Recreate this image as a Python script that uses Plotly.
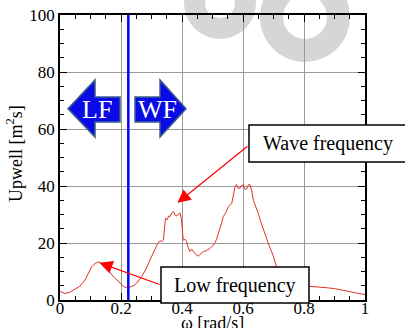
import plotly.graph_objects as go

# ---------------- data ----------------
omega = [0.0, 0.016, 0.03, 0.05, 0.065, 0.082, 0.095, 0.104, 0.115, 0.126, 0.137, 0.148,
         0.16, 0.175, 0.19, 0.202, 0.21, 0.219, 0.232, 0.246, 0.256, 0.268, 0.28, 0.29,
         0.30, 0.311, 0.32, 0.328, 0.334, 0.339, 0.343, 0.346, 0.352, 0.356, 0.36, 0.366,
         0.372, 0.378, 0.383, 0.388, 0.393, 0.398, 0.401, 0.404, 0.41, 0.415, 0.42, 0.426,
         0.432, 0.437, 0.445, 0.453, 0.46, 0.47, 0.48, 0.492, 0.503, 0.509, 0.514, 0.52,
         0.525, 0.53, 0.535, 0.543, 0.552, 0.558, 0.563, 0.568, 0.574, 0.579, 0.584, 0.59,
         0.595, 0.601, 0.607, 0.612, 0.618, 0.623, 0.628, 0.634, 0.642, 0.65, 0.658, 0.667,
         0.675, 0.683, 0.692, 0.70, 0.71, 0.72, 0.735, 0.75, 0.77, 0.80, 0.82, 0.85, 0.875,
         0.90, 0.925, 0.95, 0.975, 1.0]
upwell = [3.0, 2.3, 2.6, 3.7, 4.8, 7.0, 9.5, 11.7, 12.8, 13.4, 12.8, 11.7,
          10.2, 8.2, 6.5, 5.3, 4.6, 4.4, 4.6, 5.3, 6.6, 8.2, 10.5, 12.9,
          15.0, 17.5, 19.8, 20.8, 20.5, 21.0, 25.0, 28.7, 28.2, 29.5, 29.2, 30.5,
          31.0, 29.8, 29.5, 30.2, 30.6, 28.5, 24.0, 21.0, 21.3, 20.5, 18.5, 17.0,
          17.8, 17.0, 16.0, 15.4, 16.2, 17.0, 17.3, 18.1, 19.3, 20.2, 21.6, 23.5,
          25.7, 27.0, 29.2, 30.5, 32.7, 33.2, 33.9, 36.5, 39.8, 40.5, 39.2, 39.2,
          40.2, 40.4, 38.8, 39.0, 40.5, 40.4, 38.6, 35.0, 33.0, 30.4, 27.5, 24.6,
          22.0, 19.9, 17.5, 15.2, 11.5, 8.5, 6.5, 5.5, 5.2, 5.0, 4.9, 4.6, 4.3,
          4.0, 3.4, 2.9, 2.4, 1.9]

x_ticks = [0, 0.2, 0.4, 0.6, 0.8, 1.0]
x_tick_labels = ["0", "0.2", "0.4", "0.6", "0.8", "1"]
y_ticks = [0, 20, 40, 60, 80, 100]
y_tick_labels = ["0", "20", "40", "60", "80", "100"]

split_omega = 0.224            # LF / WF separation
lf_target = (0.129, 13.1)      # arrow target: low-frequency peak
wf_target = (0.385, 34.1)      # arrow target: wave-frequency peak

# ---------------- layout helpers (pixel -> paper) ----------------
W, H = 405, 328
L, R, T, B = 60, 40, 15, 28
PW, PH = W - L - R, H - T - B
def px(x):
    return (x - L) / PW
def py(y):
    return (H - B - y) / PH

FONT = "Liberation Serif"
RED = "#e0302a"
BLUE = "#0000ff"

fig = go.Figure()
fig.add_trace(go.Scatter(x=omega, y=upwell, mode="lines",
                         line=dict(color=RED, width=1), showlegend=False,
                         hoverinfo="skip"))

shapes = []
# watermark donuts
for cx, cy, ro, ri in [(220, 3, 36, 15), (305, 17, 45, 22)]:
    shapes.append(dict(type="circle", xref="paper", yref="paper", layer="below",
                       x0=px(cx - ro), x1=px(cx + ro), y0=py(cy + ro), y1=py(cy - ro),
                       fillcolor="#d6d6d6", line=dict(width=0)))
    shapes.append(dict(type="circle", xref="paper", yref="paper", layer="below",
                       x0=px(cx - ri), x1=px(cx + ri), y0=py(cy + ri), y1=py(cy - ri),
                       fillcolor="white", line=dict(width=0)))

# vertical separator
shapes.append(dict(type="line", xref="x", yref="paper", x0=split_omega, x1=split_omega,
                   y0=0, y1=1, line=dict(color=BLUE, width=2.5), layer="above"))

# blue block arrows (pixel outlines)
def path(points):
    return "M " + " L ".join(f"{px(a):.4f},{py(b):.4f}" for a, b in points) + " Z"
lf_pts = [(68, 108.7), (95, 80), (95, 97), (120, 97), (120, 122), (95, 122), (95, 137)]
wf_pts = [(186, 108.7), (160, 80), (160, 97), (135, 97), (135, 122), (160, 122), (160, 137)]
for pts in (lf_pts, wf_pts):
    shapes.append(dict(type="path", xref="paper", yref="paper", path=path(pts),
                       fillcolor="#0a0ae6", line=dict(color="#3b5f8a", width=1.5),
                       layer="above"))

# annotation boxes
shapes.append(dict(type="rect", xref="paper", yref="paper", x0=px(249), x1=px(412),
                   y0=py(162), y1=py(125), fillcolor="white",
                   line=dict(color="black", width=1.5), layer="above"))
shapes.append(dict(type="rect", xref="paper", yref="paper", x0=px(161), x1=px(309),
                   y0=py(303), y1=py(267), fillcolor="white",
                   line=dict(color="black", width=1.5), layer="above"))

def label(text, x, y, size, color="black", **kw):
    return dict(text=text, xref="paper", yref="paper", x=px(x), y=py(y),
                xanchor="center", yanchor="middle", showarrow=False,
                font=dict(family=FONT, size=size, color=color), **kw)

annotations = [
    label("LF", 97, 109, 26, "white"),
    label("WF", 157, 109, 26, "white"),
    label("Wave frequency", 328, 143.5, 20),
    label("Low frequency", 235, 285, 20),
    # red arrows
    dict(text="", x=wf_target[0], y=wf_target[1], xref="x", yref="y",
         ax=px(249), ay=py(145) * 100, axref="x", ayref="y", showarrow=True,
         arrowhead=2, arrowsize=2.2, arrowwidth=1.2, arrowcolor="#ff0000", standoff=0,
         startstandoff=0),
    dict(text="", x=lf_target[0], y=lf_target[1], xref="x", yref="y",
         ax=px(161), ay=py(285) * 100, axref="x", ayref="y", showarrow=True,
         arrowhead=2, arrowsize=2.2, arrowwidth=1.2, arrowcolor="#ff0000", standoff=0,
         startstandoff=0),
    # axis titles
    label("ω [rad/s]", 212.5, 323, 18),
    label("Upwell [m<sup>2</sup>s]", 14, 153, 18, textangle=-90),
]

axis_common = dict(showline=True, linecolor="black", linewidth=1.5, mirror="ticks",
                   ticks="inside", ticklen=7, tickwidth=1.2, tickcolor="black",
                   showgrid=True, gridcolor="#9a9a9a", gridwidth=1, zeroline=False,
                   automargin=False,
                   tickfont=dict(family=FONT, size=17, color="black"))

fig.update_layout(
    width=W, height=H, margin=dict(l=L, r=R, t=T, b=B, autoexpand=False),
    font=dict(family=FONT, size=18, color="black"),
    paper_bgcolor="white", plot_bgcolor="rgba(0,0,0,0)",
    xaxis=dict(range=[0, 1], tickvals=x_ticks, ticktext=x_tick_labels,
               ticklabelstandoff=-8,
               minor=dict(dtick=0.05, ticks="inside", ticklen=4, tickcolor="black",
                          showgrid=False), **axis_common),
    yaxis=dict(range=[0, 100], tickvals=y_ticks, ticktext=y_tick_labels,
               ticklabelstandoff=0,
               minor=dict(dtick=5, ticks="inside", ticklen=4, tickcolor="black",
                          showgrid=False), **axis_common),
    shapes=shapes, annotations=annotations, showlegend=False,
)

fig.write_html("out.html")
